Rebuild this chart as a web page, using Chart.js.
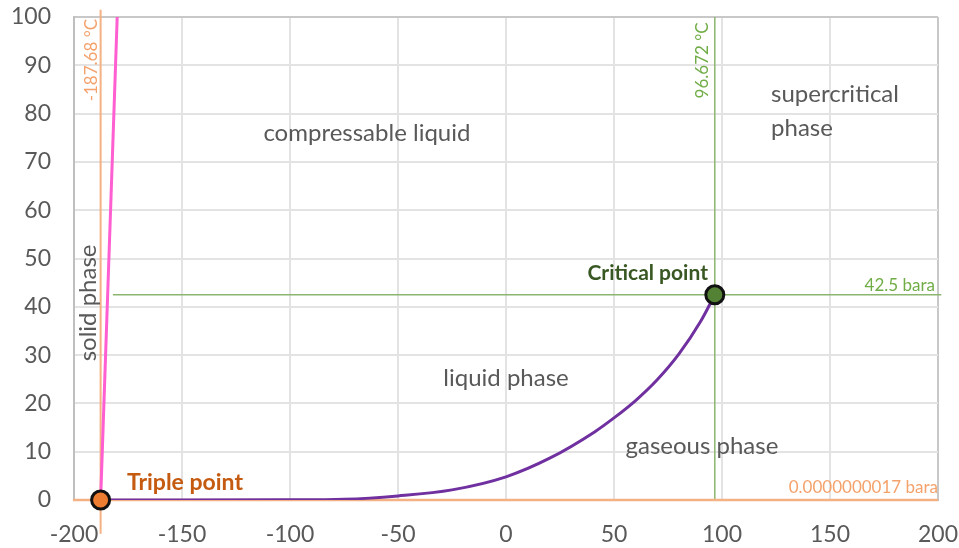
<!DOCTYPE html>
<html>
<head>
<meta charset="utf-8">
<script src="https://cdn.jsdelivr.net/npm/chart.js@4"></script>
<style>
  html, body { margin: 0; padding: 0; background: #fff; }
  #wrap { width: 959px; height: 548px; position: relative; }
</style>
</head>
<body>
<div id="wrap"><canvas id="phase-chart"></canvas></div>
<script>
// --- data ---
const tripleT = -187.68;
const tripleP = 0.0000000017;
const criticalT = 96.672;
const criticalP = 42.5;

// vapour pressure curve (°C, bara)
const vapourT = [-187.68, -150, -100, -75, -50, -25, 0, 20, 41, 50, 60, 70, 80, 90, 96.672];
const vapourP = [0, 0.0, 0.03, 0.15, 0.85, 2.1, 4.8, 8.6, 14.1, 17.0, 20.6, 24.9, 30.2, 36.9, 42.5];

// melting line
const meltT = [-187.68, -180];
const meltP = [0, 100];

const xTicks = [-200, -150, -100, -50, 0, 50, 100, 150, 200];
const yTicks = [0, 10, 20, 30, 40, 50, 60, 70, 80, 90, 100];

const toPoints = (xs, ys) => xs.map((x, i) => ({ x: x, y: ys[i] }));

const FONT = 'Lato, "Open Sans", sans-serif';

// text placed on the chart, in data units
const notes = [
    { text: 'compressable liquid', x: -64.4, y: 76, align: 'center', color: '#595959', size: 24 },
    { text: 'supercritical', x: 122.7, y: 83.9, align: 'left', color: '#595959', size: 24 },
    { text: 'phase', x: 122.7, y: 77, align: 'left', color: '#595959', size: 24 },
    { text: 'liquid phase', x: 0, y: 25.3, align: 'center', color: '#595959', size: 24 },
    { text: 'gaseous phase', x: 90.7, y: 11.2, align: 'center', color: '#595959', size: 24 },
    { text: 'solid phase', x: -193.5, y: 40.8, align: 'center', color: '#595959', size: 24, rotate: true },
    { text: 'Critical point', x: 93.5, y: 47, align: 'right', color: '#385723', size: 21, bold: true },
    { text: 'Triple point', x: -175.5, y: 3.7, align: 'left', color: '#c55a11', size: 23, bold: true },
    { text: '42.5 bara', x: 198.6, y: 44.5, align: 'right', color: '#70ad47', size: 17 },
    { text: '0.0000000017 bara', x: 200, y: 2.5, align: 'right', color: '#f4a26c', size: 17 },
    { text: '-187.68 °C', x: -191.7, y: 99.6, align: 'right', color: '#f4a26c', size: 17, rotate: true },
    { text: '96.672 °C', x: 91.2, y: 98.9, align: 'right', color: '#70ad47', size: 17, rotate: true }
];

const notesPlugin = {
    id: 'notes',
    afterDatasetsDraw(chart) {
        const ctx = chart.ctx;
        const xs = chart.scales.x, ys = chart.scales.y;
        notes.forEach(n => {
            ctx.save();
            ctx.font = (n.bold ? 'bold ' : '') + n.size + 'px ' + FONT;
            ctx.fillStyle = n.color;
            ctx.textAlign = n.align;
            ctx.textBaseline = 'middle';
            ctx.translate(xs.getPixelForValue(n.x), ys.getPixelForValue(n.y));
            if (n.rotate) ctx.rotate(-Math.PI / 2);
            ctx.fillText(n.text, 0, 0);
            ctx.restore();
        });
    }
};

new Chart(document.getElementById('phase-chart').getContext('2d'), {
    type: 'scatter',
    data: {
        datasets: [
            {
                // triple point
                data: [{ x: tripleT, y: tripleP }],
                pointRadius: 9,
                pointBackgroundColor: '#ed7d31',
                pointBorderColor: '#111',
                pointBorderWidth: 3,
                clip: false,
                order: 0
            },
            {
                // critical point
                data: [{ x: criticalT, y: criticalP }],
                pointRadius: 9,
                pointBackgroundColor: '#548235',
                pointBorderColor: '#111',
                pointBorderWidth: 3,
                order: 0
            },
            {
                data: toPoints(vapourT, vapourP),
                showLine: true,
                borderColor: '#7030a0',
                borderWidth: 3,
                pointRadius: 0,
                cubicInterpolationMode: 'monotone',
                order: 1
            },
            {
                data: toPoints(meltT, meltP),
                showLine: true,
                borderColor: '#ff5fd0',
                borderWidth: 3,
                pointRadius: 0,
                order: 1
            },
            {
                // -187.68 °C line
                data: [{ x: tripleT, y: -7 }, { x: tripleT, y: 101.5 }],
                showLine: true,
                borderColor: '#f4b183',
                borderWidth: 2,
                pointRadius: 0,
                clip: false,
                order: 2
            },
            {
                // triple point pressure line
                data: [{ x: -200.5, y: tripleP }, { x: 200, y: tripleP }],
                showLine: true,
                borderColor: '#f4b183',
                borderWidth: 2.5,
                pointRadius: 0,
                clip: false,
                order: 2
            },
            {
                // 96.672 °C line
                data: [{ x: criticalT, y: 0 }, { x: criticalT, y: 100 }],
                showLine: true,
                borderColor: '#8cb56e',
                borderWidth: 1.5,
                pointRadius: 0,
                order: 2
            },
            {
                // 42.5 bara line
                data: [{ x: -182, y: criticalP }, { x: 201.5, y: criticalP }],
                showLine: true,
                borderColor: '#8cb56e',
                borderWidth: 1.5,
                pointRadius: 0,
                clip: false,
                order: 2
            }
        ]
    },
    options: {
        responsive: true,
        maintainAspectRatio: false,
        animation: false,
        layout: { padding: { top: 17, right: 21, left: 0, bottom: 0 } },
        plugins: {
            legend: { display: false },
            tooltip: { enabled: false }
        },
        scales: {
            x: {
                type: 'linear',
                min: xTicks[0],
                max: xTicks[xTicks.length - 1],
                afterBuildTicks: axis => { axis.ticks = xTicks.map(v => ({ value: v })); },
                afterFit: axis => { axis.height = 48; axis.paddingLeft = 0; axis.paddingRight = 0; },
                ticks: { color: '#595959', font: { family: FONT, size: 23 }, padding: 21, maxRotation: 0 },
                grid: {
                    color: ctx => (ctx.tick && ctx.tick.value === 200 ? '#c8c8c8' : '#e3e3e3'),
                    lineWidth: 2,
                    drawTicks: false
                },
                border: { color: '#bfbfbf', width: 2 }
            },
            y: {
                min: yTicks[0],
                max: yTicks[yTicks.length - 1],
                afterBuildTicks: axis => { axis.ticks = yTicks.map(v => ({ value: v })); },
                afterFit: axis => { axis.width = 74; axis.paddingTop = 0; axis.paddingBottom = 0; },
                ticks: { color: '#595959', font: { family: FONT, size: 23 }, padding: 23 },
                grid: {
                    color: ctx => (ctx.tick && ctx.tick.value === 100 ? '#c8c8c8' : '#e3e3e3'),
                    lineWidth: 2,
                    drawTicks: false
                },
                border: { color: '#bfbfbf', width: 2 }
            }
        }
    },
    plugins: [notesPlugin]
});
</script>
</body>
</html>
